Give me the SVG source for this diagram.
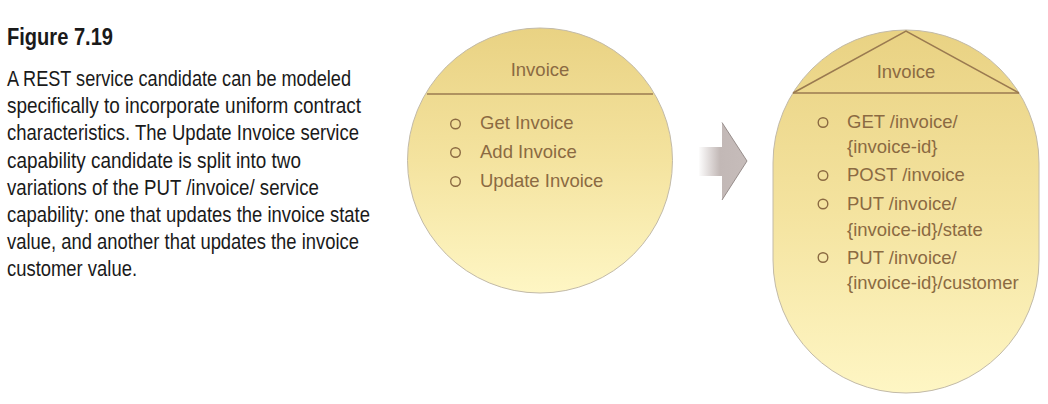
<svg xmlns="http://www.w3.org/2000/svg" width="1048" height="404" viewBox="0 0 1048 404">
<defs>
<linearGradient id="fillY" x1="0" y1="0" x2="0" y2="1">
<stop offset="0" stop-color="#e9d283"/>
<stop offset="0.5" stop-color="#f4e39f"/>
<stop offset="1" stop-color="#fef6c4"/>
</linearGradient>
<linearGradient id="arrowG" gradientUnits="userSpaceOnUse" x1="698" y1="0" x2="747" y2="0">
<stop offset="0" stop-color="#ffffff"/>
<stop offset="0.45" stop-color="#c2b8b6"/>
<stop offset="1" stop-color="#c6bcba"/>
</linearGradient>
</defs>
<style>
.cap{font-family:"Liberation Sans",Arial,sans-serif;font-size:21.5px;fill:#1a1a1a}
.title{font-family:"Liberation Sans",Arial,sans-serif;font-size:23px;font-weight:bold;fill:#1a1a1a}
.lbl{font-family:"Liberation Sans",Arial,sans-serif;font-size:18.5px;fill:#8b6a42}
.hdr{text-anchor:middle}
.shape{fill:url(#fillY);stroke:#c2baa8;stroke-width:1}
.div{stroke:#9a7a50;stroke-width:1.5;fill:none}
.bul{fill:none;stroke:#8b6a42;stroke-width:1.4}
</style>
<rect width="1048" height="404" fill="#ffffff"/>
<g id="caption">
<text class="title" x="7" y="45" textLength="106" lengthAdjust="spacingAndGlyphs">Figure 7.19</text>
<text class="cap" x="7" y="86" textLength="344" lengthAdjust="spacingAndGlyphs">A REST service candidate can be modeled</text>
<text class="cap" x="7" y="113.2" textLength="354" lengthAdjust="spacingAndGlyphs">specifically to incorporate uniform contract</text>
<text class="cap" x="7" y="140.4" textLength="352" lengthAdjust="spacingAndGlyphs">characteristics. The Update Invoice service</text>
<text class="cap" x="7" y="167.6" textLength="294" lengthAdjust="spacingAndGlyphs">capability candidate is split into two</text>
<text class="cap" x="7" y="194.8" textLength="312" lengthAdjust="spacingAndGlyphs">variations of the PUT /invoice/ service</text>
<text class="cap" x="7" y="222" textLength="363" lengthAdjust="spacingAndGlyphs">capability: one that updates the invoice state</text>
<text class="cap" x="7" y="249.2" textLength="352" lengthAdjust="spacingAndGlyphs">value, and another that updates the invoice</text>
<text class="cap" x="7" y="276.4" textLength="130" lengthAdjust="spacingAndGlyphs">customer value.</text>
</g>
<g id="node-invoice-candidate">
<circle class="shape" cx="540" cy="160.5" r="132.5"/>
<line class="div" x1="427" y1="94" x2="653" y2="94"/>
<text class="lbl hdr" x="540" y="76">Invoice</text>
<circle class="bul" cx="455.5" cy="124" r="4.8"/>
<text class="lbl" x="480" y="129">Get Invoice</text>
<circle class="bul" cx="455.5" cy="152.5" r="4.8"/>
<text class="lbl" x="480" y="158">Add Invoice</text>
<circle class="bul" cx="455.5" cy="181.5" r="4.8"/>
<text class="lbl" x="480" y="187">Update Invoice</text>
</g>
<g id="node-invoice-rest">
<path class="shape" d="M773,163 A133,133 0 0 1 1039,163 V260 A133,133 0 0 1 773,260 Z"/>
<polyline class="div" stroke-width="1.3" points="793,93 906,31 1019,93"/>
<line class="div" x1="793" y1="93" x2="1019" y2="93"/>
<text class="lbl hdr" x="906" y="78">Invoice</text>
<circle class="bul" cx="823" cy="122.5" r="4.8"/>
<text class="lbl" x="847" y="127.5">GET /invoice/</text>
<text class="lbl" x="847" y="153">{invoice-id}</text>
<circle class="bul" cx="823" cy="175.5" r="4.8"/>
<text class="lbl" x="847" y="181">POST /invoice</text>
<circle class="bul" cx="823" cy="204" r="4.8"/>
<text class="lbl" x="847" y="210">PUT /invoice/</text>
<text class="lbl" x="847" y="236">{invoice-id}/state</text>
<circle class="bul" cx="823" cy="257.5" r="4.8"/>
<text class="lbl" x="847" y="263.5">PUT /invoice/</text>
<text class="lbl" x="847" y="289">{invoice-id}/customer</text>
</g>
<g id="connectors">
<path d="M699,147 H722 V122.5 L747,161 L722,200 V176 H699 Z" fill="url(#arrowG)"/>
<polyline points="722,122.5 747,161 722,200" fill="none" stroke="#8e8482" stroke-width="0.9"/>
</g>
</svg>
